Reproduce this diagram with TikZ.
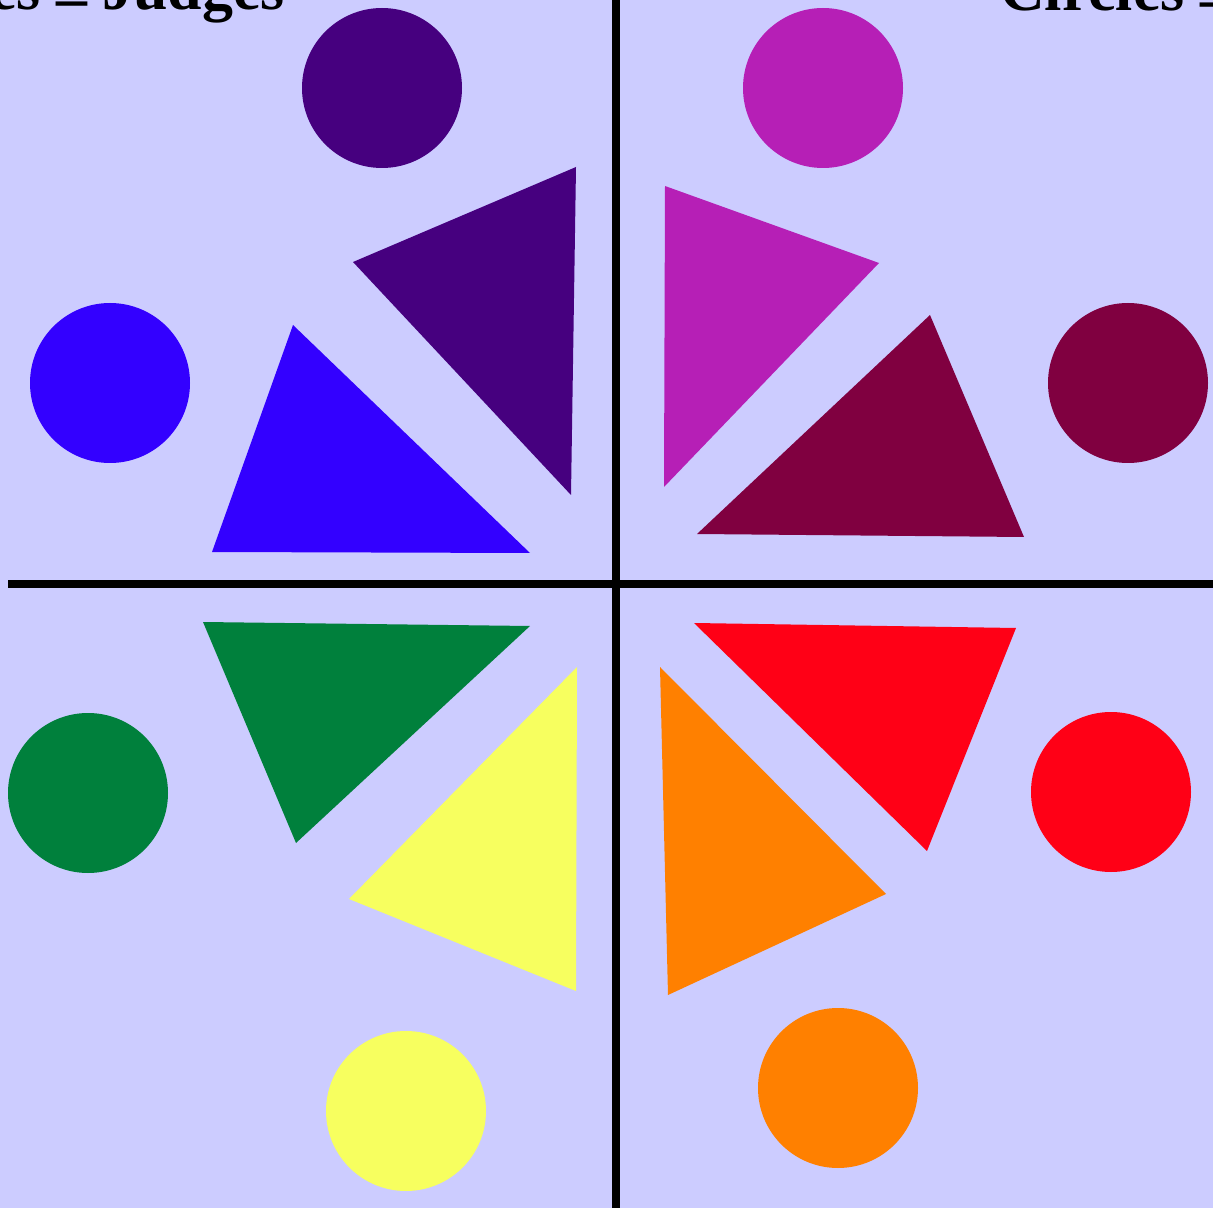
\documentclass[tikz,border=0pt]{standalone}
\usepackage{fontspec}
\setmainfont{Liberation Serif}
\usepackage{tikz}
\usetikzlibrary{positioning}
\usepackage{xcolor}

\definecolor{bgviolet}{HTML}{CCCCFF}
\definecolor{cindigo}{HTML}{46007F}
\definecolor{cblue}{HTML}{3300FF}
\definecolor{cmagenta}{HTML}{B61FB6}
\definecolor{cmaroon}{HTML}{800040}
\definecolor{cgreen}{HTML}{00803C}
\definecolor{cyellow}{HTML}{F7FF5F}
\definecolor{corange}{HTML}{FF8000}
\definecolor{cred}{HTML}{FF0016}

\newcommand{\lowdash}{\raisebox{-6pt}{--}}

\tikzset{
  divider/.style={line width=8*0.025cm, black},
  heading/.style={font=\fontsize{44}{50}\selectfont\bfseries, inner sep=0pt}
}

\begin{document}
\begin{tikzpicture}[x=0.025cm, y=-0.025cm]
            \useasboundingbox (0,0) rectangle (1213,1208);
            \fill[bgviolet] (0,0) rectangle (1213,1208);

            % Headings (cut by the frame)
            \node[heading, anchor=base east] (judges) at (285,10) {es \lowdash{} Judges};
            \node[heading, anchor=base west] (circles) at (1000,11) {Circles \lowdash};

            % Top left
            \fill[cindigo] (382,88) circle (80);
            \fill[cindigo] (353,262) -- (576,167) -- (571,495) -- cycle;
            \fill[cblue] (110,383) circle (80);
            \fill[cblue] (293,325) -- (212,552) -- (530,553) -- cycle;

            % Top right
            \fill[cmagenta] (823,88) circle (80);
            \fill[cmagenta] (665,186) -- (879,263) -- (664,487) -- cycle;
            \fill[cmaroon] (1128,383) circle (80);
            \fill[cmaroon] (930,315) -- (1024,537) -- (697,534) -- cycle;

            % Bottom left
            \fill[cgreen] (88,793) circle (80);
            \fill[cgreen] (203,622) -- (530,626) -- (296,843) -- cycle;
            \fill[cyellow] (406,1111) circle (80);
            \fill[cyellow] (577,667) -- (576,991) -- (349,899) -- cycle;

            % Bottom right
            \fill[cred] (1111,792) circle (80);
            \fill[cred] (694,623) -- (1016,628) -- (927,851) -- cycle;
            \fill[corange] (838,1088) circle (80);
            \fill[corange] (660,667) -- (886,894) -- (668,995) -- cycle;

            % Cross
            \draw[divider] (616,0) -- (616,1208);
            \draw[divider] (8,584) -- (1213,584);
        \end{tikzpicture}
\end{document}
